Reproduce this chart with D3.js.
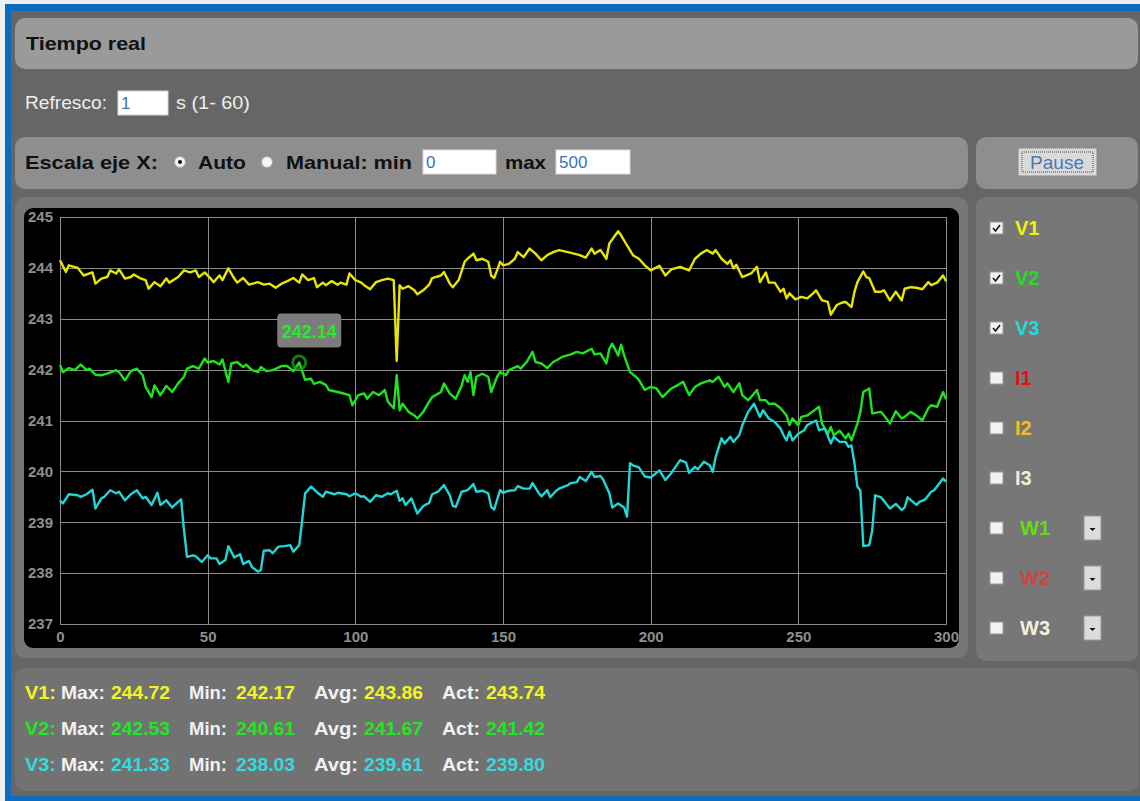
<!DOCTYPE html>
<html>
<head>
<meta charset="utf-8">
<title>Tiempo real</title>
<script src="https://cdnjs.cloudflare.com/ajax/libs/d3/7.8.5/d3.min.js"></script>
<style>
	body { margin: 0; background: #efefef; overflow: hidden; }
	svg  { display: block; font-family: "Liberation Sans", Arial, sans-serif; }
</style>
</head>
<body>
<div id="page"></div>
<script>
'use strict';

// ------------   Data   ------------ //

const xTicks = [0, 50, 100, 150, 200, 250, 300];
const yTicks = [237, 238, 239, 240, 241, 242, 243, 244, 245];

// [segundo, voltios]
const v1 = [[0,244.15],[2,243.92],[3,244.05],[6,244.0],[8,243.85],[11,243.91],[12,243.69],[14,243.79],[16,243.82],[17,243.95],[19,243.89],[20,243.97],[22,243.79],[24,243.82],[25,243.87],[27,243.8],[29,243.76],[30,243.59],[32,243.72],[34,243.64],[36,243.79],[37,243.71],[40,243.82],[42,243.95],[44,243.91],[46,243.95],[47,243.82],[49,243.91],[51,243.79],[52,243.72],[54,243.85],[55,243.76],[57,243.99],[59,243.79],[60,243.71],[62,243.8],[64,243.67],[67,243.72],[69,243.67],[71,243.69],[73,243.61],[75,243.69],[77,243.74],[79,243.8],[81,243.71],[82,243.87],[84,243.76],[86,243.8],[87,243.62],[89,243.71],[90,243.66],[92,243.74],[94,243.67],[95,243.71],[97,243.67],[98,243.89],[100,243.76],[102,243.71],[103,243.66],[105,243.58],[107,243.72],[109,243.76],[111,243.79],[113,243.76],[114,242.17],[115,243.66],[116,243.59],[118,243.64],[120,243.56],[121,243.48],[123,243.56],[125,243.67],[126,243.8],[129,243.85],[130,243.92],[132,243.69],[133,243.62],[135,243.76],[137,244.12],[138,244.18],[140,244.28],[141,244.15],[143,244.18],[145,244.12],[146,243.85],[147,243.8],[148,243.95],[149,244.12],[150,244.05],[152,244.08],[154,244.18],[155,244.31],[157,244.21],[159,244.38],[161,244.28],[163,244.15],[165,244.25],[167,244.31],[169,244.35],[172,244.31],[174,244.28],[176,244.25],[178,244.2],[180,244.38],[181,244.28],[183,244.35],[185,244.18],[186,244.48],[188,244.64],[189,244.72],[190,244.64],[192,244.44],[194,244.25],[196,244.18],[198,244.05],[200,243.95],[203,244.04],[205,243.85],[207,243.97],[210,244.02],[213,243.95],[215,244.18],[217,244.28],[219,244.35],[221,244.28],[222,244.35],[224,244.18],[226,244.08],[227,244.15],[228,243.99],[229,244.06],[231,243.82],[234,243.89],[236,244.02],[237,243.72],[239,243.91],[240,243.71],[242,243.71],[244,243.53],[245,243.59],[246,243.4],[247,243.5],[249,243.38],[251,243.43],[253,243.4],[255,243.5],[256,243.56],[258,243.36],[260,243.33],[261,243.08],[263,243.27],[265,243.32],[266,243.33],[268,243.23],[269,243.53],[270,243.72],[272,243.93],[273,243.82],[274,243.8],[276,243.53],[278,243.53],[279,243.56],[281,243.36],[283,243.53],[285,243.36],[286,243.59],[288,243.62],[290,243.61],[292,243.58],[294,243.72],[295,243.66],[297,243.71],[299,243.85],[300,243.74]];

const v2 = [[0,242.09],[1,241.95],[3,242.03],[5,241.99],[7,242.1],[9,241.99],[10,242.02],[12,241.9],[14,241.89],[16,241.92],[19,241.99],[20,241.95],[22,241.79],[24,241.97],[26,242.02],[28,241.89],[29,241.66],[31,241.46],[32,241.69],[34,241.5],[36,241.68],[38,241.56],[40,241.73],[42,241.86],[43,242.02],[45,242.07],[47,242.02],[49,242.22],[50,242.14],[52,242.17],[54,242.1],[55,242.2],[57,241.76],[58,242.12],[60,242.15],[62,242.05],[63,242.1],[65,241.99],[67,241.95],[68,242.05],[70,241.97],[72,241.99],[75,242.07],[77,242.07],[79,241.97],[81,242.14],[83,241.8],[85,241.82],[86,241.72],[88,241.76],[90,241.7],[91,241.6],[94,241.56],[96,241.53],[98,241.5],[99,241.3],[101,241.5],[103,241.53],[104,241.43],[106,241.56],[108,241.5],[110,241.6],[111,241.37],[113,241.24],[114,241.89],[115,241.2],[116,241.33],[118,241.17],[120,241.1],[121,241.04],[123,241.17],[125,241.37],[126,241.46],[129,241.56],[130,241.73],[132,241.53],[134,241.43],[136,241.69],[137,241.89],[138,241.76],[139,241.95],[140,241.5],[141,241.86],[143,241.92],[145,241.86],[146,241.56],[148,241.86],[149,241.95],[151,241.89],[152,241.99],[155,242.07],[156,242.02],[158,242.15],[160,242.35],[161,242.15],[163,242.12],[165,242.03],[167,242.15],[168,242.18],[170,242.25],[173,242.3],[175,242.35],[177,242.32],[180,242.41],[181,242.3],[183,242.32],[185,242.12],[186,242.41],[187,242.51],[189,242.28],[190,242.49],[191,242.28],[193,241.95],[195,241.86],[196,241.8],[198,241.6],[200,241.66],[202,241.63],[204,241.46],[207,241.63],[209,241.69],[211,241.76],[213,241.5],[215,241.66],[217,241.73],[220,241.79],[221,241.76],[223,241.86],[225,241.66],[226,241.73],[228,241.56],[230,241.73],[231,241.5],[233,241.4],[234,241.46],[236,241.6],[237,241.4],[239,241.4],[240,241.33],[242,241.33],[244,241.24],[246,241.1],[247,240.91],[248,241.04],[250,240.91],[251,241.07],[253,241.1],[255,241.18],[257,241.27],[258,240.94],[260,240.74],[261,240.87],[262,240.71],[264,240.8],[266,240.65],[267,240.74],[268,240.61],[270,240.94],[271,241.17],[272,241.56],[274,241.63],[275,241.14],[278,241.17],[279,241.1],[281,240.94],[283,241.18],[285,241.04],[286,241.07],[288,241.17],[290,241.1],[292,241.0],[294,241.24],[295,241.3],[297,241.27],[299,241.56],[300,241.42]];

const v3 = [[0,239.43],[1,239.37],[3,239.55],[6,239.53],[7,239.5],[9,239.55],[11,239.64],[12,239.27],[14,239.47],[15,239.5],[17,239.63],[19,239.57],[20,239.6],[22,239.43],[24,239.55],[26,239.63],[28,239.47],[29,239.5],[31,239.34],[33,239.58],[34,239.34],[36,239.43],[38,239.29],[40,239.4],[41,239.45],[42,238.84],[43,238.32],[45,238.35],[46,238.33],[48,238.22],[50,238.35],[51,238.29],[53,238.29],[54,238.18],[56,238.26],[57,238.53],[59,238.31],[61,238.37],[62,238.18],[64,238.24],[65,238.12],[67,238.03],[68,238.06],[69,238.44],[71,238.45],[72,238.39],[74,238.52],[76,238.53],[78,238.55],[79,238.42],[81,238.55],[82,239.04],[83,239.57],[85,239.7],[87,239.59],[89,239.5],[90,239.6],[93,239.55],[94,239.58],[97,239.55],[98,239.51],[100,239.57],[102,239.5],[103,239.51],[105,239.4],[107,239.53],[109,239.5],[111,239.57],[112,239.55],[114,239.62],[115,239.42],[116,239.47],[117,239.34],[119,239.47],[121,239.17],[123,239.32],[125,239.38],[126,239.55],[128,239.6],[130,239.73],[132,239.53],[133,239.32],[134,239.3],[136,239.6],[138,239.63],[140,239.75],[141,239.6],[143,239.62],[145,239.57],[146,239.3],[147,239.25],[149,239.63],[150,239.58],[152,239.62],[154,239.63],[155,239.71],[157,239.66],[159,239.66],[160,239.77],[162,239.58],[163,239.51],[165,239.63],[166,239.49],[168,239.62],[169,239.66],[172,239.73],[173,239.77],[175,239.79],[176,239.89],[178,239.81],[180,239.99],[181,239.89],[183,239.91],[184,239.83],[186,239.57],[187,239.29],[189,239.37],[191,239.29],[192,239.11],[193,240.16],[194,240.12],[196,240.08],[198,239.9],[200,239.88],[203,240.02],[205,239.83],[207,239.97],[210,240.22],[212,240.17],[213,239.97],[215,240.09],[216,240.04],[218,240.19],[220,240.12],[221,239.99],[222,240.28],[224,240.65],[225,240.55],[227,240.68],[228,240.58],[230,240.71],[231,240.9],[233,241.17],[234,241.25],[235,241.33],[237,241.07],[238,241.2],[240,241.04],[242,240.97],[244,240.84],[245,240.71],[246,240.61],[247,240.78],[248,240.61],[250,240.74],[252,240.81],[253,240.91],[255,240.97],[256,241.0],[257,240.81],[259,240.84],[261,240.55],[262,240.68],[264,240.58],[266,240.58],[267,240.48],[268,240.51],[269,240.16],[270,239.7],[271,239.63],[272,238.53],[274,238.55],[275,238.84],[276,239.53],[278,239.49],[279,239.42],[281,239.27],[283,239.36],[285,239.24],[286,239.29],[287,239.49],[290,239.34],[291,239.4],[293,239.45],[295,239.6],[296,239.63],[299,239.86],[300,239.8]];

const seriesData   = [v1, v2, v3];
const seriesNames  = ["V1", "V2", "V3"];
const seriesColors = ["#e6e600", "#1ee41e", "#22d6d6"];

const legendNames   = ["V1", "V2", "V3", "I1", "I2", "I3", "W1", "W2", "W3"];
const legendColors  = ["#f2f200", "#22dd22", "#22dada", "#e81010", "#f0c020", "#f0ecd4", "#66dd11", "#cc4444", "#f4f0e2"];
const legendChecked = [true, true, true, false, false, false, false, false, false];
const legendMenu    = [false, false, false, false, false, false, true, true, true];

const statLabels = ["Max:", "Min:", "Avg:", "Act:"];
const statsV1    = ["244.72", "242.17", "243.86", "243.74"];
const statsV2    = ["242.53", "240.61", "241.67", "241.42"];
const statsV3    = ["241.33", "238.03", "239.61", "239.80"];
const statColors = ["#f4f422", "#22e622", "#33dcdc"];

const tooltipPoint = [81, 242.14];


// -------------   Helpers   -------------- //

const text = (g, x, y, str, size, color, weight, len) =>
{
	const t = g.append("text")
		.attr("x", x)
		.attr("y", y)
		.attr("font-size", size)
		.attr("font-weight", weight || "normal")
		.attr("fill", color)
		.text(str);
	if (len) t.attr("textLength", len).attr("lengthAdjust", "spacingAndGlyphs");
	return t;
};

const panel = (g, x, y, w, h, fill) => g.append("rect")
	.attr("x", x).attr("y", y)
	.attr("width", w).attr("height", h)
	.attr("rx", 10)
	.attr("fill", fill);

const inputBox = (g, x, y, w, value) =>
{
	g.append("rect")
		.attr("x", x).attr("y", y)
		.attr("width", w).attr("height", 24)
		.attr("fill", "#ffffff")
		.attr("stroke", "#d8d8d8");
	text(g, x + 3, y + 18, value, 17, "#3a72b8");
};

const checkbox = (g, x, cy, checked) =>
{
	g.append("rect")
		.attr("x", x).attr("y", cy - 6)
		.attr("width", 13).attr("height", 12)
		.attr("fill", "#f2f2f2")
		.attr("stroke", "#9a9a9a");
	if (checked)
		g.append("path")
			.attr("d", `M${x + 3},${cy} l2.5,3 l4.5,-6`)
			.attr("fill", "none")
			.attr("stroke", "#111")
			.attr("stroke-width", 1.6);
};


// -------------   Layout   -------------- //

const drawFrame = svg =>
{
	svg.append("rect").attr("x", 5).attr("y", 4).attr("width", 1135).attr("height", 797).attr("fill", "#0b6cbe");
	svg.append("rect").attr("x", 11).attr("y", 11).attr("width", 1129).attr("height", 785).attr("fill", "#666666");

	panel(svg, 15, 18, 1123, 51, "#9a9a9a");
	panel(svg, 15, 137, 953, 52, "#8e8e8e");
	panel(svg, 976, 137, 162, 52, "#8e8e8e");
	panel(svg, 15, 197, 953, 461, "#777777");
	panel(svg, 976, 197, 162, 464, "#777777");
	panel(svg, 15, 668, 1124, 123, "#727272");
};

const drawControls = svg =>
{
	const g = svg.append("g");
	text(g, 26, 50, "Tiempo real", 19, "#111", "bold", 120);

	text(g, 25, 109, "Refresco:", 19, "#eeeeee", "normal", 82);
	inputBox(g, 118, 91, 50, "1");
	text(g, 176, 109, "s (1- 60)", 19, "#eeeeee", "normal", 74);

	text(g, 25, 169, "Escala eje X:", 19, "#111", "bold", 133);
	g.append("circle").attr("cx", 180).attr("cy", 162).attr("r", 5.5).attr("fill", "#f4f4f4").attr("stroke", "#a8a8a8");
	g.append("circle").attr("cx", 180).attr("cy", 162).attr("r", 2).attr("fill", "#111");
	text(g, 198, 169, "Auto", 19, "#111", "bold", 48);
	g.append("circle").attr("cx", 267).attr("cy", 162).attr("r", 5.5).attr("fill", "#f4f4f4").attr("stroke", "#a8a8a8");
	text(g, 286, 169, "Manual: min", 19, "#111", "bold", 126);
	inputBox(g, 423, 150, 73, "0");
	text(g, 505, 169, "max", 19, "#111", "bold", 41);
	inputBox(g, 556, 150, 74, "500");

	// boton Pause
	g.append("rect")
		.attr("x", 1018).attr("y", 148)
		.attr("width", 79).attr("height", 28)
		.attr("fill", "#dadada")
		.attr("stroke", "#8a8a8a");
	g.append("rect")
		.attr("x", 1022).attr("y", 152)
		.attr("width", 71).attr("height", 20)
		.attr("fill", "none")
		.attr("stroke", "#444")
		.attr("stroke-dasharray", "1,1");
	text(g, 1030, 169, "Pause", 19, "#4a7ab4", "normal", 54);
};

const drawLegend = svg =>
{
	const g = svg.append("g");
	legendNames.forEach((name, i) =>
	{
		const cy = 228 + i * 50;
		checkbox(g, 990, cy, legendChecked[i]);
		const lx = legendMenu[i] ? 1020 : 1015;
		text(g, lx, cy + 7, name, 20, legendColors[i], "bold");
		if (legendMenu[i])
		{
			g.append("rect")
				.attr("x", 1084).attr("y", cy - 12)
				.attr("width", 17).attr("height", 24)
				.attr("fill", "#dcdcdc")
				.attr("stroke", "#999");
			g.append("path")
				.attr("d", `M${1089.5},${cy} h6 l-3,3 z`)
				.attr("fill", "#111");
		}
	});
};

const drawStats = svg =>
{
	const g = svg.append("g");
	const labelX   = [61, 189, 314, 442];
	const labelLen = [44, 38, 44, 38];
	const valueX   = [111, 236, 364, 486];
	[statsV1, statsV2, statsV3].forEach((row, r) =>
	{
		const y = 699 + r * 36;
		text(g, 25, y, seriesNames[r] + ":", 19, statColors[r], "bold", 31);
		row.forEach((v, i) =>
		{
			text(g, labelX[i], y, statLabels[i], 19, "#f2f2f2", "bold", labelLen[i]);
			text(g, valueX[i], y, v, 19, statColors[r], "bold", 59);
		});
	});
};


// -------------   Chart   -------------- //

const drawChart = svg =>
{
	const left   = 60;
	const top    = 217;
	const width  = 886;
	const height = 407;
	const x      = d3.scaleLinear().domain([0, 300]).range([0, width]);
	const y      = d3.scaleLinear().domain([237, 245]).range([height, 0]);

	svg.append("rect")
		.attr("x", 24).attr("y", 208)
		.attr("width", 935).attr("height", 440)
		.attr("rx", 9)
		.attr("fill", "#000");

	const g = svg.append("g")
		.attr("transform", "translate(" + left + "," + top + ")");

	const styleAxis = a =>
	{
		a.select(".domain").remove();
		a.selectAll(".tick line").attr("stroke", "#8c8c8c").attr("shape-rendering", "crispEdges");
		a.selectAll(".tick text")
			.attr("fill", "#8e8e8e")
			.attr("font-size", 15)
			.attr("font-weight", "bold")
			.attr("font-family", "'Liberation Sans', Arial, sans-serif");
	};

	g.append("g")
		.call(d3.axisLeft(y).tickValues(yTicks).tickSize(-width).tickPadding(7).tickFormat(d3.format("d")))
		.call(styleAxis);

	g.append("g")
		.attr("transform", "translate(0," + height + ")")
		.call(d3.axisBottom(x).tickValues(xTicks).tickSize(-height).tickPadding(7).tickFormat(d3.format("d")))
		.call(styleAxis);

	g.append("rect")
		.attr("width", width).attr("height", height)
		.attr("fill", "none")
		.attr("stroke", "#8c8c8c")
		.attr("shape-rendering", "crispEdges");

	const line = d3.line()
		.x(d => x(d[0]))
		.y(d => y(d[1]));

	g.selectAll(".serie")
		.data(seriesData)
		.enter()
			.append("path")
			.attr("class", "serie")
			.attr("d", line)
			.attr("fill", "none")
			.attr("stroke", (d, i) => seriesColors[i])
			.attr("stroke-width", 2.4)
			.attr("stroke-linejoin", "round");

	// punto marcado
	const cx = x(tooltipPoint[0]);
	const cy = y(tooltipPoint[1]);
	g.append("circle")
		.attr("cx", cx).attr("cy", cy)
		.attr("r", 6.5)
		.attr("fill", "none")
		.attr("stroke", "#1a9a1a")
		.attr("stroke-opacity", 0.8)
		.attr("stroke-width", 3);
	g.append("rect")
		.attr("x", cx - 22).attr("y", cy - 49)
		.attr("width", 64).attr("height", 34)
		.attr("rx", 4)
		.attr("fill", "#7c7c7c");
	g.append("text")
		.attr("x", cx + 10).attr("y", cy - 25)
		.attr("text-anchor", "middle")
		.attr("font-size", 18)
		.attr("font-weight", "bold")
		.attr("fill", "#22ee22")
		.text(d3.format(".2f")(tooltipPoint[1]));
};


// ----------   Main Program   ------------ //

document.addEventListener("DOMContentLoaded", () =>
{
	const svg = d3.select("#page")
		.append("svg")
		.attr("width", 1140)
		.attr("height", 801);

	drawFrame(svg);
	drawControls(svg);
	drawChart(svg);
	drawLegend(svg);
	drawStats(svg);
}, false);
</script>
</body>
</html>
